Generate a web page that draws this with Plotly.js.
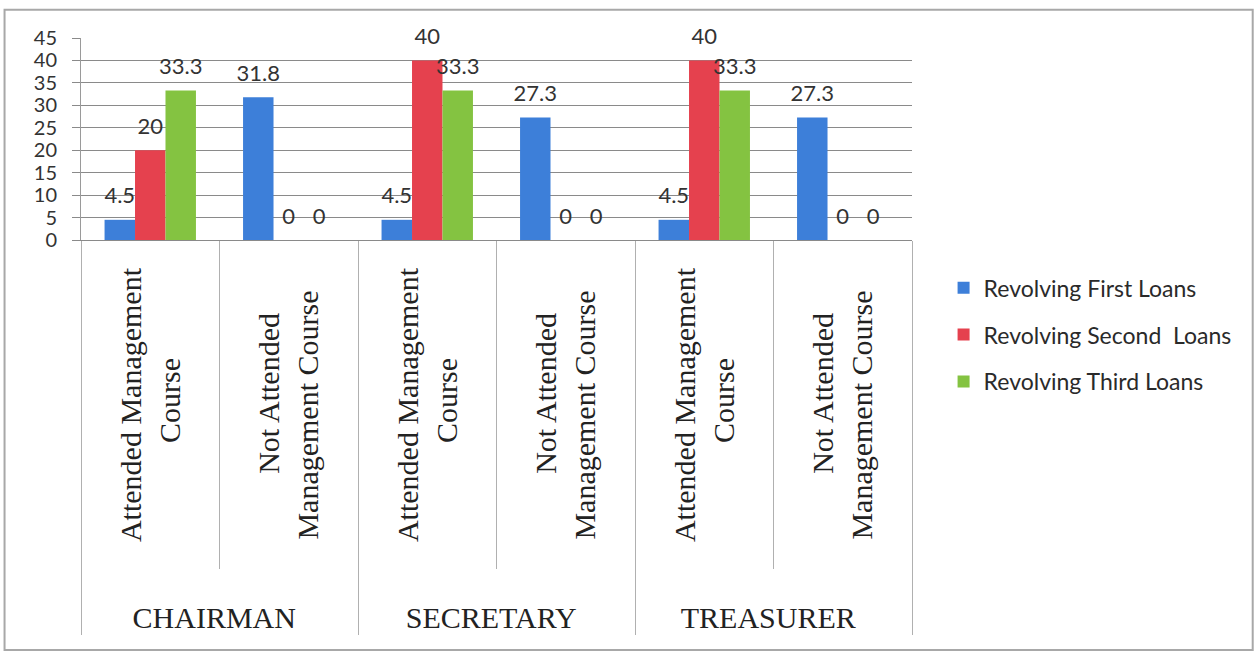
<!DOCTYPE html>
<html>
<head>
<meta charset="utf-8">
<script src="https://cdn.plot.ly/plotly-3.0.1.min.js"></script>
<style>
  html, body { margin: 0; padding: 0; background: #ffffff; }
  #chart { width: 1254px; height: 655px; }
</style>
</head>
<body>
<div id="chart"></div>
<script>
const groups = ["CHAIRMAN", "CHAIRMAN", "SECRETARY", "SECRETARY", "TREASURER", "TREASURER"];
const sp = n => "\u00a0".repeat(n);
const attended = sp(4) + "Attended Management" + sp(2) + "<br>Course" + sp(14);
const notAttended = "Not Attended" + sp(8) + "<br>" + sp(4) + "Management Course" + sp(5);
const subcats = [attended, notAttended, attended, notAttended, attended, notAttended];
const seriesNames = ["Revolving First Loans", "Revolving Second  Loans", "Revolving Third Loans"];
const firstLoans = [4.5, 31.8, 4.5, 27.3, 4.5, 27.3];
const secondLoans = [20, 0, 40, 0, 40, 0];
const thirdLoans = [33.3, 0, 33.3, 0, 33.3, 0];
const yTicks = [0, 5, 10, 15, 20, 25, 30, 35, 40, 45];

const colors = ["#3d7fd9", "#e5414e", "#84c341"];
const values = [firstLoans, secondLoans, thirdLoans];

const barTraces = values.map((v, i) => ({
  type: "bar",
  name: seriesNames[i],
  legendgroup: "g" + i,
  offsetgroup: "s" + i,
  x: [groups, subcats],
  y: v,
  marker: { color: colors[i], line: { width: 0 } },
  hoverinfo: "skip"
}));

const labelTraces = values.map((v, i) => ({
  type: "scatter",
  mode: "markers+text",
  showlegend: false,
  offsetgroup: "s" + i,
  x: [groups, subcats],
  y: v,
  text: v.map(String),
  textposition: "top center",
  marker: { size: 16, opacity: 0, color: colors[i] },
  cliponaxis: false,
  textfont: { family: "Lato, 'Open Sans', sans-serif", size: 22, color: "#333333" },
  hoverinfo: "skip"
}));

const layout = {
  width: 1254,
  height: 655,
  paper_bgcolor: "#ffffff",
  plot_bgcolor: "#ffffff",
  margin: { l: 81, r: 342, t: 38, b: 415, autoexpand: false },
  barmode: "group",
  scattermode: "group",
  bargap: 0.34,
  scattergap: 0.34,
  bargroupgap: 0,
  showlegend: true,
  legend: {
    x: 1.038, y: 0.489, xanchor: "left", yanchor: "middle",
    yref: "container",
    font: { family: "Lato, 'Open Sans', sans-serif", size: 23, color: "#2a2a2a" },
    tracegroupgap: 14,
    itemwidth: 30,
    bgcolor: "rgba(0,0,0,0)"
  },
  xaxis: {
    type: "multicategory",
    tickangle: -90,
    tickfont: { family: "'Liberation Serif', 'Times New Roman', serif", size: 30, color: "#222222" },
    ticks: "outside",
    tickson: "boundaries",
    ticklen: 328,
    tickcolor: "#b0b0b0",
    tickwidth: 1,
    showdividers: true,
    dividercolor: "#b0b0b0",
    dividerwidth: 1,
    showline: true,
    linecolor: "#8a8a8a",
    linewidth: 1,
    showgrid: false,
    automargin: false
  },
  yaxis: {
    range: [0, 45],
    tickvals: yTicks,
    ticktext: yTicks.map(String),
    tickfont: { family: "Lato, 'Open Sans', sans-serif", size: 20, color: "#333333" },
    ticks: "outside",
    ticklen: 8,
    ticklabelstandoff: 11,
    tickcolor: "#8a8a8a",
    showgrid: true,
    gridcolor: "#8a8a8a",
    gridwidth: 1,
    showline: true,
    linecolor: "#9a9a9a",
    linewidth: 1,
    zeroline: false,
    automargin: false
  },
  shapes: [{
    type: "rect", xref: "paper", yref: "paper",
    x0: -0.092, x1: 1.41, y0: -2.03, y1: 1.14,
    line: { color: "#a8a8a8", width: 2 }, fillcolor: "rgba(0,0,0,0)", layer: "below"
  }]
};

Plotly.newPlot("chart", barTraces.concat(labelTraces), layout, { displayModeBar: false, staticPlot: true });
</script>
</body>
</html>
